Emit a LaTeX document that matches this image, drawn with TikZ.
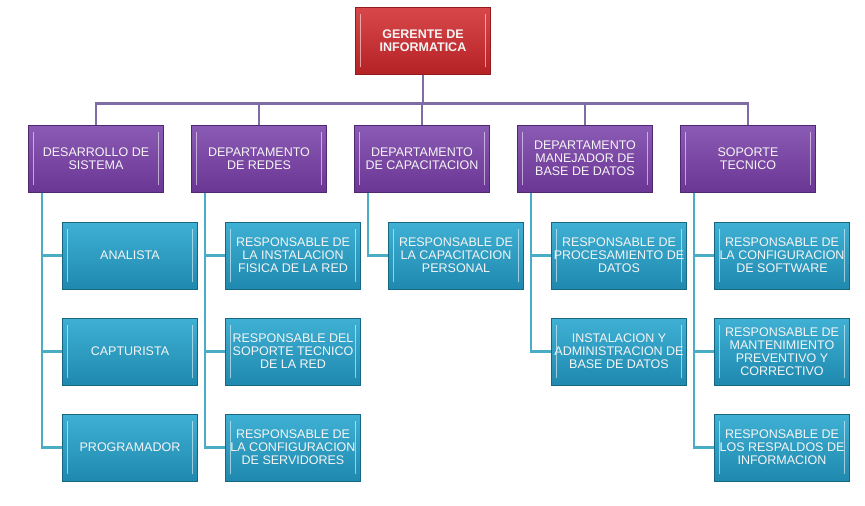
\documentclass[tikz,border=0pt]{standalone}
\usepackage{fontspec}
\setmainfont{Liberation Sans}
\usetikzlibrary{positioning}

\definecolor{rojo}{HTML}{B52226}
\definecolor{rojoclaro}{HTML}{D8484A}
\definecolor{morado}{HTML}{6B3694}
\definecolor{moradoclaro}{HTML}{8A5BB4}
\definecolor{azul}{HTML}{1F88AE}
\definecolor{azulclaro}{HTML}{3FB1D4}
\definecolor{lineamorada}{HTML}{7E6CA6}
\definecolor{lineaazul}{HTML}{4BACC6}

\tikzset{
  caja/.style={minimum width=135pt, minimum height=67pt, inner sep=1pt,
    align=center, text=white!92!gray, font=\fontsize{12.5}{13}\selectfont,
    line width=1pt,
    path picture={
      \draw[white, opacity=.55, line width=1.6pt]
        ([xshift=5pt,yshift=-7pt]path picture bounding box.north west) --
        ([xshift=5pt,yshift=7pt]path picture bounding box.south west);
      \draw[white, opacity=.55, line width=1.6pt]
        ([xshift=-5pt,yshift=-7pt]path picture bounding box.north east) --
        ([xshift=-5pt,yshift=7pt]path picture bounding box.south east);
    }},
  jefe/.style={caja, top color=rojoclaro, bottom color=rojo, draw=rojo!80!black,
    font=\fontsize{12.5}{13}\selectfont\bfseries},
  depto/.style={caja, top color=moradoclaro, bottom color=morado, draw=morado!75!black},
  puesto/.style={caja, top color=azulclaro, bottom color=azul, draw=azul!75!black},
  tronco/.style={draw=lineamorada, line width=2.4pt},
  rama/.style={draw=lineaazul, line width=2.4pt}
}

\begin{document}
\begin{tikzpicture}[x=1pt, y=-1pt, node distance=163pt, on grid]
  \useasboundingbox (0,0) rectangle (865,506);

  % nivel 1
  \node[jefe] (ger) at (423,40.5) {GERENTE DE\\INFORMATICA};

  % nivel 2
  \node[depto] (des) at (96,158.5) {DESARROLLO DE\\SISTEMA};
  \node[depto] (red) [right=of des] {DEPARTAMENTO\\DE REDES};
  \node[depto] (cap) [right=of red] {DEPARTAMENTO\\DE CAPACITACION};
  \node[depto] (bd)  [right=of cap] {DEPARTAMENTO\\MANEJADOR DE\\BASE DE DATOS};
  \node[depto] (sop) [right=of bd]  {SOPORTE\\TECNICO};

  % nivel 3
  \node[puesto] (ana)   [below right=97pt and 34pt of des] {ANALISTA};
  \node[puesto] (captu) [below=96pt of ana] {CAPTURISTA};
  \node[puesto] (prog)  [below=96pt of captu] {PROGRAMADOR};

  \node[puesto] (rinst) [below right=97pt and 34pt of red] {RESPONSABLE DE\\LA INSTALACION\\FISICA DE LA RED};
  \node[puesto] (rsop)  [below=96pt of rinst] {RESPONSABLE DEL\\SOPORTE TECNICO\\DE LA RED};
  \node[puesto] (rserv) [below=96pt of rsop] {RESPONSABLE DE\\LA CONFIGURACION\\DE SERVIDORES};

  \node[puesto] (rcap)  [below right=97pt and 34pt of cap] {RESPONSABLE DE\\LA CAPACITACION\\PERSONAL};

  \node[puesto] (rproc) [below right=97pt and 34pt of bd] {RESPONSABLE DE\\PROCESAMIENTO DE\\DATOS};
  \node[puesto] (radm)  [below=96pt of rproc] {INSTALACION Y\\ADMINISTRACION DE\\BASE DE DATOS};

  \node[puesto] (rsw)   [below right=97pt and 34pt of sop] {RESPONSABLE DE\\LA CONFIGURACION\\DE SOFTWARE};
  \node[puesto] (rmant) [below=96pt of rsw] {RESPONSABLE DE\\MANTENIMIENTO\\PREVENTIVO Y\\CORRECTIVO};
  \node[puesto] (rresp) [below=96pt of rmant] {RESPONSABLE DE\\LOS RESPALDOS DE\\INFORMACION};

  % conexiones
  \foreach \d in {des,red,cap,bd,sop}
    \draw[tronco] (ger.south) -- ++(0,29) -| (\d.north);

  \foreach \d/\s in {des/ana,des/captu,des/prog,red/rinst,red/rsop,red/rserv,
                     cap/rcap,bd/rproc,bd/radm,sop/rsw,sop/rmant,sop/rresp}
    \draw[rama] ([xshift=14pt]\d.south west) |- (\s.west);
\end{tikzpicture}
\end{document}
